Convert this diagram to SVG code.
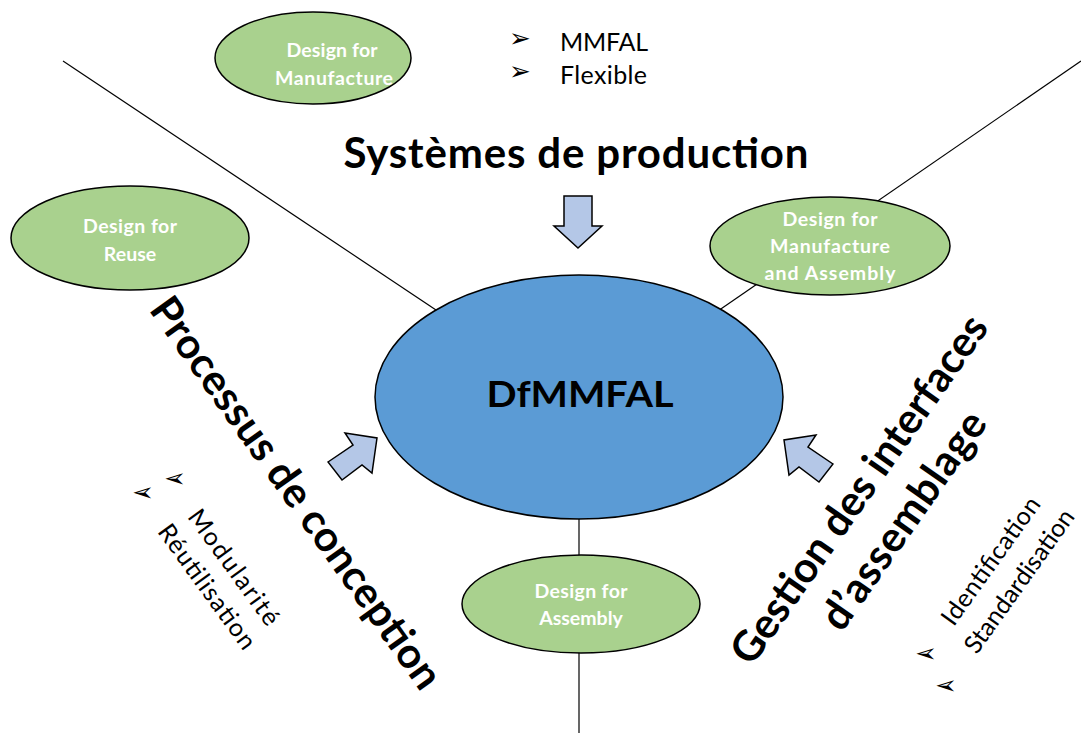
<svg xmlns="http://www.w3.org/2000/svg" width="1081" height="733" viewBox="0 0 1081 733">
<style>
.bg{fill:#ffffff}
.ln{stroke:#000;stroke-width:1.2;fill:none}
.green{fill:#A9D18E;stroke:#000;stroke-width:1.5}
.blue{fill:#5B9BD5;stroke:#000;stroke-width:1.5}
.arr{fill:#B4C7E7;stroke:#000;stroke-width:1.5;stroke-linejoin:miter}
.gt{font-family:Lato,"Open Sans",sans-serif;font-weight:bold;font-size:19.5px;fill:#fff;text-anchor:middle}
.big{font-family:Lato,"Open Sans",sans-serif;font-weight:bold;font-size:42px;fill:#000;text-anchor:middle}
.mid{font-family:Lato,"Open Sans",sans-serif;font-weight:bold;font-size:37px;fill:#000;text-anchor:middle}
.sm{font-family:Lato,"Open Sans",sans-serif;font-size:25px;fill:#000}
.smc{font-family:Lato,"Open Sans",sans-serif;font-size:25px;fill:#000;text-anchor:middle}
.bul{font-family:"DejaVu Sans",sans-serif;font-size:26px;fill:#000;text-anchor:middle}
</style>
<rect class="bg" x="0" y="0" width="1081" height="733"/>
<g id="connectors">
<line class="ln" x1="63" y1="61" x2="445" y2="316"/>
<line class="ln" x1="1081" y1="61" x2="715" y2="313"/>
<line class="ln" x1="579" y1="515" x2="579" y2="733"/>
</g>
<g id="dfm">
<ellipse class="green" cx="313" cy="58" rx="98" ry="46"/>
<text class="gt" x="332" y="57" textLength="91">Design for</text>
<text class="gt" x="334" y="85" textLength="118">Manufacture</text>
</g>
<g id="dfr">
<ellipse class="green" cx="130" cy="238" rx="119" ry="52"/>
<text class="gt" x="130" y="233" textLength="94">Design for</text>
<text class="gt" x="130" y="261">Reuse</text>
</g>
<g id="dfma">
<ellipse class="green" cx="830" cy="246" rx="120" ry="49"/>
<text class="gt" x="830" y="226" textLength="95">Design for</text>
<text class="gt" x="830" y="253" textLength="120">Manufacture</text>
<text class="gt" x="830" y="280" textLength="131">and Assembly</text>
</g>
<g id="dfa">
<ellipse class="green" cx="581" cy="604" rx="119" ry="49"/>
<text class="gt" x="581" y="598" textLength="93">Design for</text>
<text class="gt" x="581" y="625">Assembly</text>
</g>
<g id="dfmmfal">
<ellipse class="blue" cx="579" cy="397" rx="204" ry="122"/>
<text class="mid" x="580" y="407" textLength="187" lengthAdjust="spacingAndGlyphs">DfMMFAL</text>
</g>
<g id="systemes">
<text class="big" x="576" y="168" textLength="465">Systèmes de production</text>
<text class="bul" x="520" y="47">➢</text>
<text class="sm" x="560" y="51" textLength="88">MMFAL</text>
<text class="bul" x="520" y="80">➢</text>
<text class="sm" x="560" y="84" textLength="87">Flexible</text>
<polygon class="arr" points="564,196 592,196 592,226 602,226 578,248 554,226 564,226"/>
</g>
<g id="processus">
<g transform="translate(296,493) rotate(54.5)">
<text class="big" x="0" y="14" textLength="470">Processus de conception</text>
</g>
<g transform="translate(220.5,577) rotate(54)">
<text class="smc" x="0" y="-8" textLength="137">Modularité</text>
<text class="smc" x="0" y="25" textLength="148">Réutilisation</text>
</g>
<text class="bul" transform="translate(143,492) scale(-1,1)" x="0" y="9">➢</text>
<text class="bul" transform="translate(175,478) scale(-1,1)" x="0" y="9">➢</text>
<polygon class="arr" points="328,462 353,445 345,433 377,438 372,473 362,465 342,480"/>
</g>
<g id="gestion">
<g transform="translate(881.5,505) rotate(-55)">
<text class="big" x="0" y="-13" textLength="415">Gestion des interfaces</text>
<text class="big" x="0" y="41" textLength="256">d’assemblage</text>
</g>
<g transform="translate(1005,571) rotate(-54.5)">
<text class="smc" x="0" y="-9" textLength="151">Identification</text>
<text class="smc" x="0" y="26" textLength="170">Standardisation</text>
</g>
<text class="bul" transform="translate(926,653) scale(-1,1)" x="0" y="9">➢</text>
<text class="bul" transform="translate(946,685) scale(-1,1)" x="0" y="9">➢</text>
<polygon class="arr" points="833,464 808,447 816,435 784,440 789,475 799,467 819,482"/>
</g>
</svg>
